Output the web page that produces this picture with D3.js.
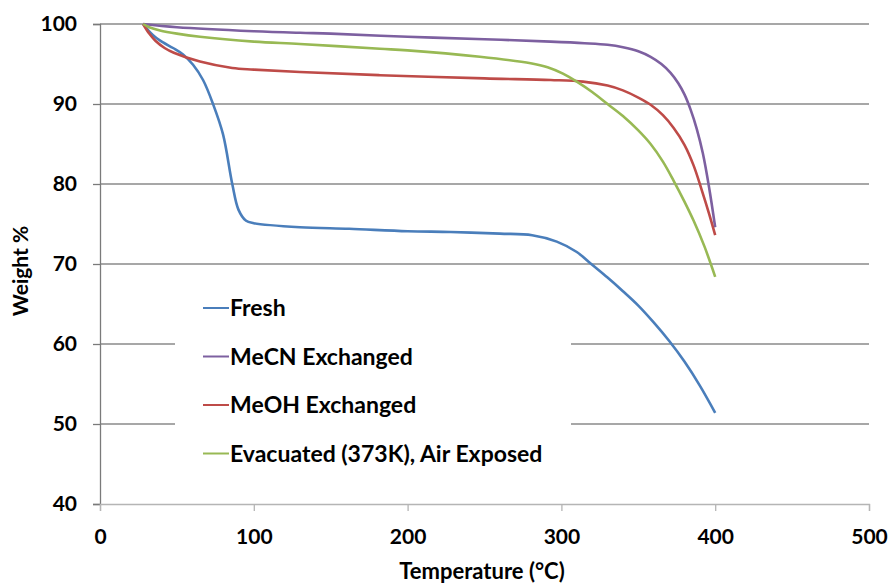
<!DOCTYPE html>
<html>
<head>
<meta charset="utf-8">
<script src="https://cdn.jsdelivr.net/npm/d3@7"></script>
<style>
  body { margin: 0; background: #fff; }
  text { font-family: Lato, "Open Sans", sans-serif; font-weight: bold; fill: #000; }
</style>
</head>
<body>
<div id="chart"></div>
<script>
// TGA curves: temperature (°C) and weight %
const freshT = [28, 34.5, 41, 47.5, 54, 60.5, 67, 73.5, 80, 86, 90, 95, 100, 130, 162, 200, 228, 260, 281, 297, 310, 320, 330, 340, 350, 360, 370, 380, 390, 400];
const freshW = [100, 98.6, 97.7, 97.0, 96.2, 94.9, 93.0, 90.0, 86.2, 80.0, 76.8, 75.4, 75.1, 74.6, 74.4, 74.1, 74.0, 73.8, 73.6, 72.8, 71.5, 69.9, 68.3, 66.6, 64.8, 62.7, 60.4, 57.8, 54.8, 51.4];

const mecnT = [28, 50, 100, 130, 150, 200, 250, 293, 315, 330, 340, 350, 358, 365, 371, 376, 380, 384, 388, 392, 396, 400];
const mecnW = [100, 99.6, 99.1, 98.9, 98.8, 98.4, 98.1, 97.8, 97.6, 97.4, 97.1, 96.6, 95.9, 95.0, 93.9, 92.6, 91.2, 89.3, 86.9, 83.8, 79.6, 74.6];

const meohT = [28, 32, 36, 42, 48, 65, 86, 100, 130, 182, 250, 293, 314, 330, 340, 350, 358, 366, 373, 380, 386, 391, 396, 400];
const meohW = [100, 98.8, 97.9, 97.0, 96.4, 95.3, 94.5, 94.3, 94.0, 93.6, 93.2, 93.0, 92.8, 92.3, 91.7, 90.8, 89.9, 88.6, 87.0, 84.9, 82.3, 79.4, 76.3, 73.6];

const evacT = [28, 32, 39, 50, 65, 100, 130, 182, 200, 247, 280, 291, 301, 310, 320, 330, 340, 350, 358, 366, 373, 380, 386, 393, 400];
const evacW = [100, 99.6, 99.2, 98.8, 98.4, 97.8, 97.5, 96.9, 96.7, 95.9, 95.1, 94.6, 93.8, 92.8, 91.5, 90.0, 88.5, 86.7, 85.0, 82.8, 80.4, 77.8, 75.4, 72.2, 68.4];

const seriesNames = ["Fresh", "MeCN Exchanged", "MeOH Exchanged", "Evacuated (373K), Air Exposed"];
const seriesColors = ["#4a7ebb", "#7d60a0", "#be4b48", "#98b954"];
const seriesT = [freshT, mecnT, meohT, evacT];
const seriesW = [freshW, mecnW, meohW, evacW];

const xTicks = [0, 100, 200, 300, 400, 500];
const yTicks = [40, 50, 60, 70, 80, 90, 100];

const width = 893;
const height = 585;
const margin = {left: 100, right: 24, top: 24, bottom: 81};

const svg = d3.select("#chart")
  .append("svg")
  .attr("width", width)
  .attr("height", height);

const x = d3.scaleLinear()
  .domain([0, 500])
  .range([margin.left, width - margin.right]);

const y = d3.scaleLinear()
  .domain([40, 100])
  .range([height - margin.bottom, margin.top]);

// gridlines
svg.append("g")
  .selectAll("line")
  .data(yTicks.filter(d => d > 40))
  .enter()
  .append("line")
    .attr("x1", x(0))
    .attr("x2", x(500))
    .attr("y1", d => y(d))
    .attr("y2", d => y(d))
    .attr("stroke", "#8a8a8a")
    .attr("stroke-width", 1.3);

// y axis
const yAxis = svg.append("g")
  .attr("transform", `translate(${x(0)},0)`)
  .call(d3.axisLeft(y).tickValues(yTicks).tickSize(7).tickPadding(16));
yAxis.select(".domain").attr("stroke", "#7a7a7a").attr("stroke-width", 1.3);
yAxis.selectAll(".tick line").attr("stroke", "#7a7a7a").attr("stroke-width", 1.3);
yAxis.selectAll("text").attr("font-size", 21).style("font-family", "Lato").style("font-weight", "bold").attr("fill", "#000");

// x axis
const xAxis = svg.append("g")
  .attr("transform", `translate(0,${y(40)})`)
  .call(d3.axisBottom(x).tickValues(xTicks).tickSize(7).tickPadding(18));
xAxis.select(".domain").attr("stroke", "#b5b5b5").attr("stroke-width", 1.3);
xAxis.selectAll(".tick line").attr("stroke", "#b5b5b5").attr("stroke-width", 1.3);
xAxis.selectAll("text").attr("font-size", 21).style("font-family", "Lato").style("font-weight", "bold").attr("fill", "#000");

// axis titles
svg.append("text")
  .attr("x", 482)
  .attr("y", 579)
  .attr("text-anchor", "middle")
  .attr("font-size", 22)
  .text("Temperature (°C)");

svg.append("text")
  .attr("transform", `translate(28,271) rotate(-90)`)
  .attr("text-anchor", "middle")
  .attr("font-size", 21)
  .text("Weight %");

// curves
const line = d3.line()
  .x(d => x(d[0]))
  .y(d => y(d[1]))
  .curve(d3.curveCatmullRom.alpha(0.5));

seriesNames.forEach((name, i) => {
  const pts = seriesT[i].map((t, j) => [t, seriesW[i][j]]);
  svg.append("path")
    .datum(pts)
    .attr("fill", "none")
    .attr("stroke", seriesColors[i])
    .attr("stroke-width", 2.6)
    .attr("d", line);
});

// legend with white box
const legend = svg.append("g");
legend.append("rect")
  .attr("x", 175)
  .attr("y", 284)
  .attr("width", 396)
  .attr("height", 190)
  .attr("fill", "#fff");

seriesNames.forEach((name, i) => {
  const ly = 308 + i * 48.5;
  legend.append("line")
    .attr("x1", 203)
    .attr("x2", 229)
    .attr("y1", ly)
    .attr("y2", ly)
    .attr("stroke", seriesColors[i])
    .attr("stroke-width", 2);
  legend.append("text")
    .attr("x", 230)
    .attr("y", ly)
    .attr("dy", "0.35em")
    .attr("font-size", 23)
    .text(name);
});
</script>
</body>
</html>
